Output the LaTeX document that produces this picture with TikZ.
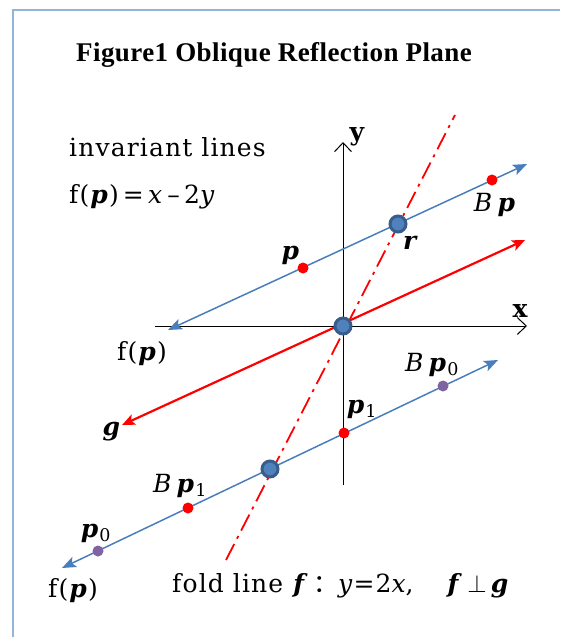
\documentclass[tikz,border=0pt]{standalone}
\usepackage{fontspec}
\setmainfont[LetterSpace=4.5]{DejaVu Serif}
\newfontfamily\titlefont[LetterSpace=1.5]{Liberation Serif}
\newfontfamily\cjk{Noto Sans CJK SC}
\usetikzlibrary{arrows.meta}
\definecolor{lineblue}{HTML}{4A7EBB}
\definecolor{ringblue}{HTML}{385D8A}
\definecolor{fillblue}{HTML}{4F81BD}
\definecolor{dotpurple}{HTML}{8064A2}
\definecolor{framecol}{HTML}{95B3D7}
\newcommand\bv[1]{\textbf{\textit{#1}}}
\newcommand\iv[1]{\textit{#1}}
\tikzset{
  axis/.style={line width=1pt,-{Straight Barb[length=9pt,width=17pt]}},
  invline/.style={lineblue,line width=1.5pt,{Stealth[length=14pt,width=11pt,inset=3pt]}-{Stealth[length=14pt,width=11pt,inset=3pt]}},
  gline/.style={red,line width=2.2pt,{Stealth[length=13pt,width=11pt,inset=3pt]}-{Stealth[length=13pt,width=11pt,inset=3pt]}},
  foldline/.style={red,line width=1.8pt,dash pattern=on 18pt off 6pt on 3pt off 6pt},
  reddot/.style={circle,fill=red,inner sep=0pt,minimum size=11pt},
  purpledot/.style={circle,fill=dotpurple,inner sep=0pt,minimum size=11pt},
  bigdot/.style={circle,fill=fillblue,draw=ringblue,line width=3pt,inner sep=0pt,minimum size=16pt},
  lbl/.style={font=\fontsize{25}{28}\selectfont,inner sep=0pt}
}
\begin{document}
\begin{tikzpicture}[x=1pt,y=-1pt]
  \useasboundingbox (0,0) rectangle (560,637);
  \draw[framecol,line width=1.5pt] (13,637) -- (13,10) -- (560,10);
  \node[font=\titlefont\bfseries\fontsize{27}{30}\selectfont,anchor=base] (title) at (274,61) {Figure1 Oblique Reflection Plane};
  % axes
  \coordinate (xl) at (155,326); \coordinate (xr) at (527,326);
  \coordinate (yb) at (343,485); \coordinate (yt) at (343,142);
  \draw[axis] (xl) -- (xr);
  \draw[axis] (yb) -- (yt);
  \node[lbl,font=\bfseries\fontsize{25}{28}\selectfont] (xlab) at (520,311) {x};
  \node[lbl,font=\bfseries\fontsize{25}{28}\selectfont] (ylab) at (357,137) {y};
  % invariant lines
  \coordinate (u1) at (168,330); \coordinate (u2) at (527,164);
  \coordinate (l1) at (62,568); \coordinate (l2) at (498,360);
  \draw[invline] (u1) -- (u2);
  \draw[invline] (l1) -- (l2);
  % g and fold line
  \coordinate (g1) at (122,425); \coordinate (g2) at (525,240);
  \draw[gline] (g1) -- (g2);
  \coordinate (f1) at (226,560); \coordinate (f2) at (455,115);
  \draw[foldline] (f1) -- (f2);
  % points
  \node[reddot] (p) at (303,268) {};
  \node[reddot] (Bp) at (492,180) {};
  \node[reddot] (p1) at (344,433) {};
  \node[reddot] (Bp1) at (188,508) {};
  \node[purpledot] (p0) at (98,551) {};
  \node[purpledot] (Bp0) at (443,386) {};
  \node[bigdot] (r) at (398,224) {};
  \node[bigdot] (O) at (343,326) {};
  \node[bigdot] (s) at (270,469) {};
  % labels
  \node[lbl,anchor=base west] (inv) at (69,156) {invariant lines};
  \node[lbl,anchor=base west] (eq) at (69,203) {f(\bv{p})\,=\,\iv{x}\,–\,2\iv{y}};
  \node[lbl,anchor=base west] (fp1) at (117,360) {f(\bv{p})};
  \node[lbl,anchor=base west] (fp2) at (48,597) {f(\bv{p})};
  \node[lbl] (plab) at (291,255) {\bv{p}};
  \node[lbl] (Bplab) at (495,205) {\iv{B}\,\bv{p}};
  \node[lbl] (rlab) at (411,243) {\bv{r}};
  \node[lbl] (glab) at (112,432) {\bv{g}};
  \node[lbl] (p1lab) at (362,409) {\bv{p}\textsubscript{1}};
  \node[lbl] (Bp0lab) at (432,365) {\iv{B}\,\bv{p}\textsubscript{0}};
  \node[lbl] (Bp1lab) at (180,486) {\iv{B}\,\bv{p}\textsubscript{1}};
  \node[lbl] (p0lab) at (96,533) {\bv{p}\textsubscript{0}};
  \node[lbl,anchor=base west] (fold) at (172,592) {fold line \bv{f}\,{\cjk ：}\iv{y}=2\iv{x},\quad\ \bv{f}\,$\perp$\,\bv{g}};
\end{tikzpicture}
\end{document}
